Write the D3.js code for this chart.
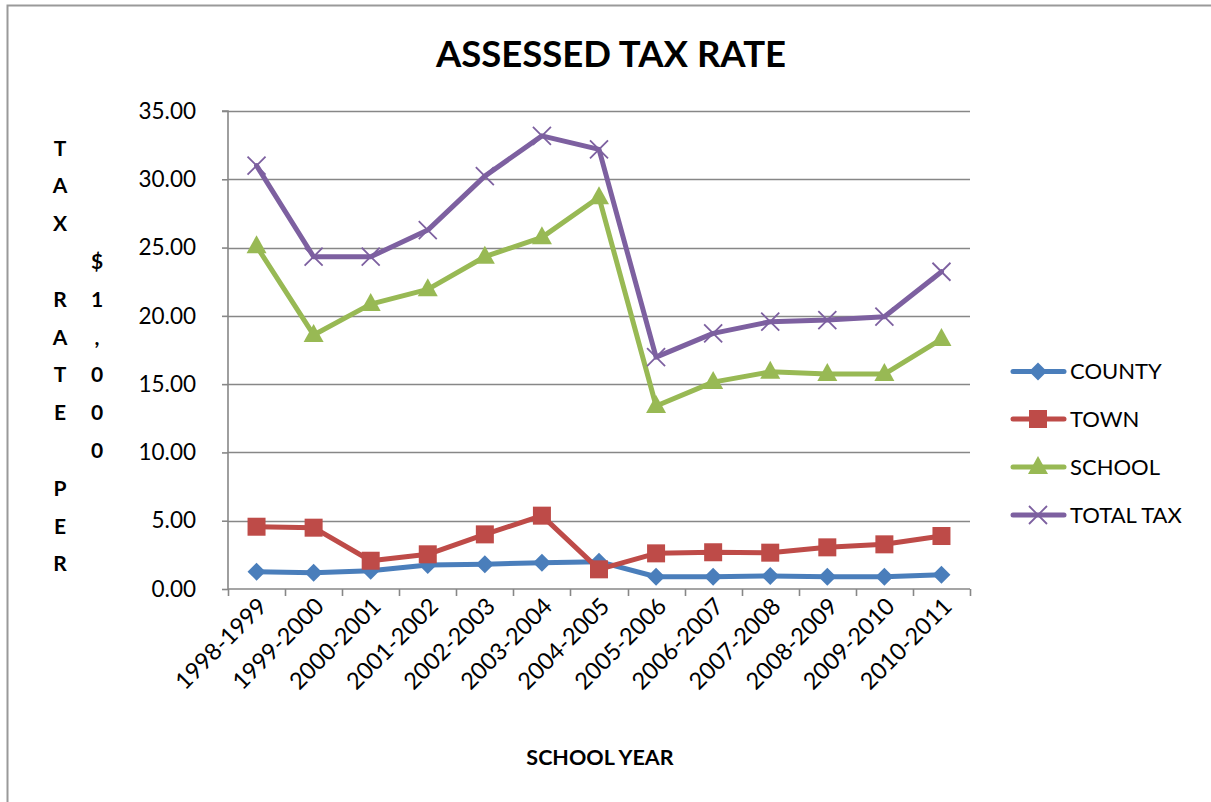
<!DOCTYPE html>
<html>
<head>
<meta charset="utf-8">
<script src="https://cdn.jsdelivr.net/npm/d3@7"></script>
<style>
  html, body { margin: 0; padding: 0; background: #fff; overflow: hidden; }
  svg { display: block; font-family: Lato, "Open Sans", sans-serif; }
</style>
</head>
<body>
<svg id="chart" width="1211" height="802"></svg>
<script>
const categories = ["1998-1999","1999-2000","2000-2001","2001-2002","2002-2003","2003-2004","2004-2005","2005-2006","2006-2007","2007-2008","2008-2009","2009-2010","2010-2011"];
const county   = [1.27, 1.19, 1.34, 1.76, 1.81, 1.93, 2.00, 0.90, 0.90, 0.95, 0.90, 0.90, 1.05];
const town     = [4.56, 4.49, 2.07, 2.54, 4.00, 5.37, 1.44, 2.61, 2.69, 2.66, 3.05, 3.27, 3.88];
const school   = [25.10, 18.60, 20.86, 21.94, 24.33, 25.75, 28.68, 13.40, 15.15, 15.90, 15.74, 15.74, 18.30];
const totalTax = [31.00, 24.33, 24.33, 26.28, 30.23, 33.18, 32.19, 16.98, 18.72, 19.57, 19.69, 19.94, 23.23];
const seriesNames = ["COUNTY","TOWN","SCHOOL","TOTAL TAX"];
const seriesColors = ["#4A7EBB","#BE4B48","#98B954","#7D60A0"];
const seriesMarkers = ["diamond","square","triangle","cross"];
const yTicks = [0,5,10,15,20,25,30,35];
const title = "ASSESSED TAX RATE";
const xTitle = "SCHOOL YEAR";
const yTitleCol1 = ["T","A","X","","R","A","T","E","","P","E","R"];
const yTitleCol2 = ["$","1",",","0","0","0"];

const seriesData = [county, town, school, totalTax];

const svg = d3.select("#chart");
const plot = {left: 228, right: 970, top: 111, bottom: 589};

// outer chart border (only left and top edges are visible in the frame)
svg.append("path").attr("d", "M7.5,830V5.5H1211")
  .attr("fill", "none").attr("stroke", "#9a9a9a").attr("stroke-width", 2);

const x = d3.scaleBand().domain(categories).range([plot.left, plot.right]).padding(0);
const y = d3.scaleLinear().domain([0, 35]).range([plot.bottom, plot.top]);
const bw = x.bandwidth();
const cx = c => x(c) + bw / 2;

// gridlines
svg.append("g").selectAll("line").data(yTicks.filter(t => t > 0)).join("line")
  .attr("x1", plot.left).attr("x2", plot.right)
  .attr("y1", d => Math.round(y(d)) + 0.5).attr("y2", d => Math.round(y(d)) + 0.5)
  .attr("stroke", "#878787").attr("stroke-width", 1.6);

// y axis
const yAxis = d3.axisLeft(y).tickValues(yTicks).tickFormat(d3.format(".2f")).tickSize(6).tickPadding(26);
const gy = svg.append("g").attr("transform", `translate(${plot.left},0)`).call(yAxis);
gy.select(".domain").attr("stroke", "#878787").attr("stroke-width", 1.6).attr("d", `M-6,${plot.top}H0V${plot.bottom}`);
gy.selectAll(".tick line").attr("stroke", "#878787").attr("stroke-width", 1.6);
gy.selectAll(".tick text").attr("font-size", 22.5).attr("font-family", "Lato").attr("fill", "#000");

// x axis (ticks at category boundaries)
const boundaries = categories.map(c => x(c)).concat([plot.right]);
const gx = svg.append("g");
gx.append("line").attr("x1", plot.left).attr("x2", plot.right)
  .attr("y1", plot.bottom).attr("y2", plot.bottom)
  .attr("stroke", "#878787").attr("stroke-width", 1.6);
gx.selectAll("line.tk").data(boundaries).join("line").attr("class", "tk")
  .attr("x1", d => Math.round(d) + 0.5).attr("x2", d => Math.round(d) + 0.5)
  .attr("y1", plot.bottom).attr("y2", plot.bottom + 7)
  .attr("stroke", "#878787").attr("stroke-width", 1.6);
gx.selectAll("text").data(categories).join("text")
  .attr("transform", d => `translate(${cx(d) + 6},${plot.bottom + 13}) rotate(-45)`)
  .attr("text-anchor", "end").attr("dy", "0.35em")
  .attr("font-size", 23.5).attr("fill", "#000")
  .text(d => d);

// line series
const line = d3.line().x((d, i) => cx(categories[i])).y(d => y(d));
function drawMarker(g, type, color, px, py) {
  if (type === "diamond") {
    g.append("path").attr("d", `M${px},${py-9}L${px+9},${py}L${px},${py+9}L${px-9},${py}Z`).attr("fill", color);
  } else if (type === "square") {
    g.append("rect").attr("x", px-9).attr("y", py-9).attr("width", 18).attr("height", 18).attr("fill", color);
  } else if (type === "triangle") {
    g.append("path").attr("d", `M${px},${py-11}L${px+10},${py+7}L${px-10},${py+7}Z`).attr("fill", color);
  } else if (type === "cross") {
    g.append("path").attr("d", `M${px-9},${py-9}L${px+9},${py+9}M${px-9},${py+9}L${px+9},${py-9}`)
      .attr("stroke", color).attr("stroke-width", 1.8).attr("fill", "none");
  }
}
seriesData.forEach((vals, si) => {
  const g = svg.append("g");
  g.append("path").datum(vals).attr("d", line)
    .attr("fill", "none").attr("stroke", seriesColors[si]).attr("stroke-width", 5)
    .attr("stroke-linejoin", "round").attr("stroke-linecap", "round");
  vals.forEach((v, i) => drawMarker(g, seriesMarkers[si], seriesColors[si], cx(categories[i]), y(v)));
});

// legend
const legRows = [371.5, 419, 467, 515];
const lg = svg.append("g");
seriesNames.forEach((n, i) => {
  const ly = legRows[i];
  lg.append("line").attr("x1", 1013).attr("x2", 1064).attr("y1", ly).attr("y2", ly)
    .attr("stroke", seriesColors[i]).attr("stroke-width", 5).attr("stroke-linecap", "round");
  drawMarker(lg, seriesMarkers[i], seriesColors[i], 1038, ly);
  lg.append("text").attr("x", 1070).attr("y", ly).attr("dy", "0.36em")
    .attr("font-size", 22).attr("fill", "#000").text(n);
});

// title
svg.append("text").attr("x", 611).attr("y", 67).attr("text-anchor", "middle")
  .attr("font-size", 36.5).attr("font-weight", 700).attr("fill", "#000").text(title);

// x title
svg.append("text").attr("x", 600).attr("y", 765).attr("text-anchor", "middle")
  .attr("font-size", 21.5).attr("font-weight", 700).attr("fill", "#000").text(xTitle);

// y title (stacked letters)
const step = 37.8;
yTitleCol1.forEach((ch, i) => {
  svg.append("text").attr("x", 60).attr("y", 148 + i * step).attr("dy", "0.36em")
    .attr("text-anchor", "middle").attr("font-size", 21).attr("font-weight", 700).attr("fill", "#000").text(ch);
});
yTitleCol2.forEach((ch, i) => {
  svg.append("text").attr("x", 97).attr("y", 148 + 3 * step + i * step).attr("dy", "0.36em")
    .attr("text-anchor", "middle").attr("font-size", 21).attr("font-weight", 700).attr("fill", "#000").text(ch);
});
</script>
</body>
</html>
